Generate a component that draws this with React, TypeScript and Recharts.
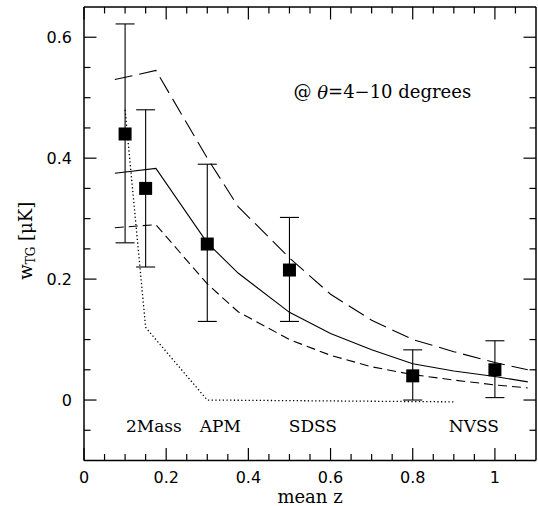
import { ComposedChart, Line, Scatter, ErrorBar, XAxis, YAxis, ReferenceDot } from "recharts"

// measured w_TG points (mean z, value, lower and upper end of the error bar)
const obsZ = [0.1, 0.15, 0.3, 0.5, 0.8, 1.0]
const obsW = [0.44, 0.35, 0.258, 0.215, 0.04, 0.05]
const obsLo = [0.26, 0.22, 0.13, 0.13, 0.0, 0.004]
const obsHi = [0.622, 0.48, 0.39, 0.302, 0.083, 0.098]

// model curves
const modelZ = [0.075, 0.175, 0.3, 0.375, 0.5, 0.6, 0.7, 0.8, 0.9, 1.0, 1.08]
const modelHigh = [0.53, 0.545, 0.4, 0.32, 0.235, 0.175, 0.132, 0.1, 0.08, 0.062, 0.05]
const modelMid = [0.375, 0.383, 0.26, 0.21, 0.145, 0.11, 0.083, 0.06, 0.048, 0.039, 0.03]
const modelLow = [0.285, 0.29, 0.192, 0.146, 0.1, 0.074, 0.055, 0.042, 0.033, 0.025, 0.02]

// dotted curve
const localZ = [0.1, 0.15, 0.3, 0.9]
const localW = [0.48, 0.12, 0.0, -0.003]

// survey names along the bottom
const surveyNames = ["2Mass", "APM", "SDSS", "NVSS"]
const surveyZ = [0.17, 0.332, 0.557, 0.949]
const surveyW = -0.043

const xMajor = [0, 0.2, 0.4, 0.6, 0.8, 1]
const xMinor = [0.05, 0.1, 0.15, 0.25, 0.3, 0.35, 0.45, 0.5, 0.55, 0.65, 0.7, 0.75, 0.85, 0.9, 0.95, 1.05]
const yMajor = [0, 0.2, 0.4, 0.6]
const yMinor = [-0.05, 0.05, 0.1, 0.15, 0.25, 0.3, 0.35, 0.45, 0.5, 0.55]

const xTicks = [...xMajor, ...xMinor].sort((a, b) => a - b)
const yTicks = [...yMajor, ...yMinor].sort((a, b) => a - b)

const obsData = obsZ.map((z, i) => ({ x: z, y: obsW[i], err: [obsW[i] - obsLo[i], obsHi[i] - obsW[i]] }))
const toLine = (zs: number[], ws: number[]) => zs.map((z, i) => ({ x: z, y: ws[i] }))

const SERIF = "DejaVu Serif"
const SANS = "DejaVu Sans"
const MAJOR = 12.5
const MINOR = 6.5

const BottomTick = (props: any) => {
  const { x, y, payload } = props
  const major = xMajor.includes(payload.value)
  return (
    <g>
      <line x1={x} y1={y} x2={x} y2={y - (major ? MAJOR : MINOR)} stroke="#000" strokeWidth={1.2} />
      {major && (
        <text x={x} y={y + 22.5} textAnchor="middle" fontFamily={SANS} fontSize={16} fill="#000">
          {payload.value}
        </text>
      )}
    </g>
  )
}

const TopTick = (props: any) => {
  const { x, y, payload } = props
  const major = xMajor.includes(payload.value)
  return <line x1={x} y1={y} x2={x} y2={y + (major ? MAJOR : MINOR)} stroke="#000" strokeWidth={1.2} />
}

const LeftTick = (props: any) => {
  const { x, y, payload } = props
  const major = yMajor.includes(payload.value)
  return (
    <g>
      <line x1={x} y1={y} x2={x + (major ? MAJOR : MINOR)} y2={y} stroke="#000" strokeWidth={1.2} />
      {major && (
        <text x={x - 12} y={y + 5.8} textAnchor="end" fontFamily={SANS} fontSize={16} fill="#000">
          {payload.value}
        </text>
      )}
    </g>
  )
}

const RightTick = (props: any) => {
  const { x, y, payload } = props
  const major = yMajor.includes(payload.value)
  return <line x1={x} y1={y} x2={x - (major ? MAJOR : MINOR)} y2={y} stroke="#000" strokeWidth={1.2} />
}

const YLabel = (props: any) => {
  const { viewBox } = props
  const cx = viewBox.x + 27
  const cy = viewBox.y + viewBox.height / 2 + 7
  return (
    <text x={cx} y={cy} transform={`rotate(-90 ${cx} ${cy})`} textAnchor="middle" dominantBaseline="middle" fontFamily={SERIF} fontSize={18} fill="#000">
      w<tspan fontSize={12} dy={4}>TG</tspan>
      <tspan dy={-4}> [μK]</tspan>
    </text>
  )
}

const XLabel = (props: any) => {
  const { viewBox } = props
  return (
    <text x={viewBox.x + viewBox.width / 2} y={503} textAnchor="middle" fontFamily={SERIF} fontSize={18} fill="#000">
      mean z
    </text>
  )
}

const Square = (props: any) => {
  const { cx, cy } = props
  return <rect x={cx - 6.5} y={cy - 6.5} width={13} height={13} fill="#000" />
}

export default function App() {
  return (
    <div style={{ position: "absolute", left: 0, top: 0, background: "#fff" }}>
      <ComposedChart width={538} height={506} margin={{ top: 6, right: 1, bottom: 0, left: 0 }}>
        <XAxis
          dataKey="x"
          type="number"
          domain={[0, 1.1]}
          ticks={xTicks}
          interval={0}
          height={45.5}
          tickSize={0}
          tickMargin={0}
          tickLine={false}
          axisLine={{ stroke: "#000", strokeWidth: 1.5 }}
          tick={<BottomTick />}
          label={<XLabel />}
        />
        <XAxis
          xAxisId="top"
          dataKey="x"
          orientation="top"
          type="number"
          domain={[0, 1.1]}
          ticks={xTicks}
          interval={0}
          height={1}
          tickSize={0}
          tickMargin={0}
          tickLine={false}
          axisLine={{ stroke: "#000", strokeWidth: 1.5 }}
          tick={<TopTick />}
        />
        <YAxis
          dataKey="y"
          type="number"
          domain={[-0.1, 0.65]}
          ticks={yTicks}
          interval={0}
          width={84}
          tickSize={0}
          tickMargin={0}
          tickLine={false}
          axisLine={{ stroke: "#000", strokeWidth: 1.5 }}
          tick={<LeftTick />}
          label={<YLabel />}
        />
        <YAxis
          yAxisId="right"
          dataKey="y"
          orientation="right"
          type="number"
          domain={[-0.1, 0.65]}
          ticks={yTicks}
          interval={0}
          width={1}
          tickSize={0}
          tickMargin={0}
          tickLine={false}
          axisLine={{ stroke: "#000", strokeWidth: 1.5 }}
          tick={<RightTick />}
        />

        {/* invisible copy so the top and right frame axes have a series attached */}
        <Line data={toLine(localZ, localW)} xAxisId="top" yAxisId="right" dataKey="y" stroke="none" dot={false} activeDot={false} legendType="none" isAnimationActive={false} />

        <Line data={toLine(modelZ, modelHigh)} dataKey="y" type="linear" stroke="#000" strokeWidth={1.1} strokeDasharray="18 7" dot={false} activeDot={false} isAnimationActive={false} />
        <Line data={toLine(modelZ, modelMid)} dataKey="y" type="linear" stroke="#000" strokeWidth={1.1} dot={false} activeDot={false} isAnimationActive={false} />
        <Line data={toLine(modelZ, modelLow)} dataKey="y" type="linear" stroke="#000" strokeWidth={1.1} strokeDasharray="9 5" dot={false} activeDot={false} isAnimationActive={false} />
        <Line data={toLine(localZ, localW)} dataKey="y" type="linear" stroke="#000" strokeWidth={1.3} strokeDasharray="1.3 2.4" dot={false} activeDot={false} isAnimationActive={false} />

        <Scatter data={obsData} dataKey="y" shape={<Square />} isAnimationActive={false}>
          <ErrorBar dataKey="err" direction="y" width={9.5} stroke="#000" strokeWidth={1.1} isAnimationActive={false} />
        </Scatter>

        {surveyNames.map((name, i) => (
          <ReferenceDot
            key={name}
            x={surveyZ[i]}
            y={surveyW}
            r={0}
            shape={(p: any) => (
              <text x={p.cx} y={p.cy} textAnchor="middle" dominantBaseline="central" fontFamily={SERIF} fontSize={17} fill="#000">
                {name}
              </text>
            )}
          />
        ))}
        <ReferenceDot
          x={0.726}
          y={0.51}
          r={0}
          shape={(p: any) => (
            <text x={p.cx} y={p.cy} textAnchor="middle" dominantBaseline="central" fontFamily={SERIF} fontSize={18} fill="#000">
              @ <tspan fontStyle="italic">θ</tspan>=4−10 degrees
            </text>
          )}
        />
      </ComposedChart>
    </div>
  )
}
